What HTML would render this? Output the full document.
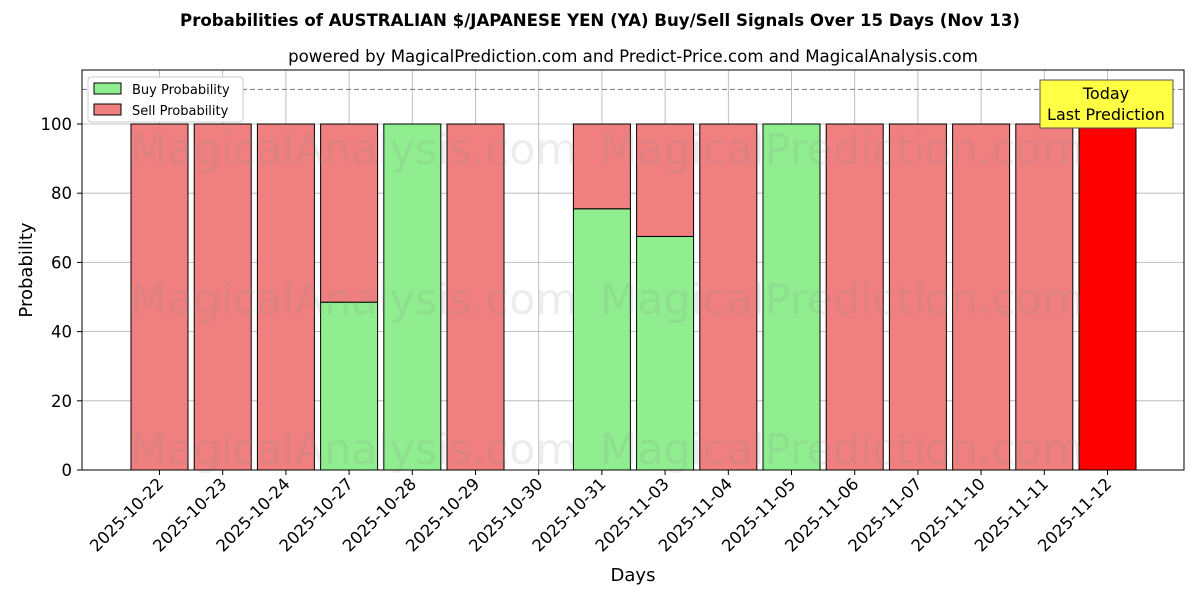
<!DOCTYPE html>
<html><head><meta charset="utf-8"><style>
body{margin:0;background:#fff;font-family:"Liberation Sans","DejaVu Sans",sans-serif}
</style></head><body>
<svg id="c" width="1200" height="600" xmlns="http://www.w3.org/2000/svg" font-family="DejaVu Sans, Liberation Sans, sans-serif">
<text x="600" y="26" text-anchor="middle" font-size="16.6" font-weight="bold">Probabilities of AUSTRALIAN $/JAPANESE YEN (YA) Buy/Sell Signals Over 15 Days (Nov 13)</text>
<text x="633" y="62" text-anchor="middle" font-size="16.6">powered by MagicalPrediction.com and Predict-Price.com and MagicalAnalysis.com</text>
<g id="grid"></g>
<g id="bars"></g>
<g opacity="0.14" font-size="43" fill="#888">
<text x="130" y="164">MagicalAnalysis.com</text><text x="600" y="164">MagicalPrediction.com</text>
<text x="130" y="314">MagicalAnalysis.com</text><text x="600" y="314">MagicalPrediction.com</text>
<text x="130" y="464">MagicalAnalysis.com</text><text x="600" y="464">MagicalPrediction.com</text>
</g>
<rect x="82" y="70" width="1102" height="400" fill="none" stroke="#000" stroke-width="1"/>
<g id="axes"></g>
<text x="32" y="270" transform="rotate(-90 32 270)" text-anchor="middle" font-size="18">Probability</text>
<text x="633" y="581" text-anchor="middle" font-size="18">Days</text>
<g>
<rect x="88" y="77" width="155" height="45" fill="#fff" stroke="#ccc" rx="3"/>
<rect x="94" y="83" width="27" height="11" fill="#90ee90" stroke="#000"/>
<text x="132" y="94" font-size="13">Buy Probability</text>
<rect x="94" y="104" width="27" height="11" fill="#f08080" stroke="#000"/>
<text x="132" y="115" font-size="13">Sell Probability</text>
</g>
<g>
<rect x="1040" y="80" width="133" height="48" fill="#ffff44" stroke="#555"/>
<text x="1106" y="99" text-anchor="middle" font-size="16">Today</text>
<text x="1106" y="120" text-anchor="middle" font-size="16">Last Prediction</text>
</g>
</svg>
<script>
const days=["2025-10-22","2025-10-23","2025-10-24","2025-10-27","2025-10-28","2025-10-29","2025-10-30","2025-10-31","2025-11-03","2025-11-04","2025-11-05","2025-11-06","2025-11-07","2025-11-10","2025-11-11","2025-11-12"];
const buy=[0,0,0,48.5,100,0,0,75.5,67.5,0,100,0,0,0,0,0];
const sell=[100,100,100,51.5,0,100,0,24.5,32.5,100,0,100,100,100,100,100];
const yTicks=[0,20,40,60,80,100];
const NS="http://www.w3.org/2000/svg";
const X=i=>159.5+i*63.2, Y=v=>470-v*3.46;
function el(t,a,p){const e=document.createElementNS(NS,t);for(const k in a)e.setAttribute(k,a[k]);p.appendChild(e);return e;}
const g=document.getElementById('grid'),b=document.getElementById('bars'),ax=document.getElementById('axes');
yTicks.forEach(v=>{
 const l=el('line',{x1:82,x2:1184,y1:Y(v),y2:Y(v),stroke:'#b0b0b0','stroke-width':0.8},g);
 
 
 el('line',{x1:77,x2:82,y1:Y(v),y2:Y(v),stroke:'#000'},ax);
 const t=el('text',{x:72,y:Y(v)+6,'text-anchor':'end','font-size':16.5},ax);t.textContent=v;
 
 
});
days.forEach((d,i)=>{
 const l=el('line',{x1:X(i),x2:X(i),y1:70,y2:470,stroke:'#b0b0b0','stroke-width':0.8},g);
 
 
 el('line',{x1:X(i),x2:X(i),y1:470,y2:475,stroke:'#000'},ax);
 const t=el('text',{x:X(i)+5,y:485,'text-anchor':'end','font-size':16.5,transform:`rotate(-45 ${X(i)+5} 485)`},ax);t.textContent=d;
 
 
 const w=57,x0=X(i)-w/2;
 if(buy[i]>0){const r=el('rect',{x:x0,y:Y(buy[i]),width:w,height:buy[i]*3.46,fill:'#90ee90',stroke:'#000'},b);
  
  }
 if(sell[i]>0){const r=el('rect',{x:x0,y:Y(buy[i]+sell[i]),width:w,height:sell[i]*3.46,fill:i==days.length-1?'#ff0000':'#f08080',stroke:'#000'},b);
  
  }
});
const dl=el('line',{x1:82,x2:1184,y1:Y(110),y2:Y(110),stroke:'#777','stroke-dasharray':'5,3'},g);


</script>
</body></html>
